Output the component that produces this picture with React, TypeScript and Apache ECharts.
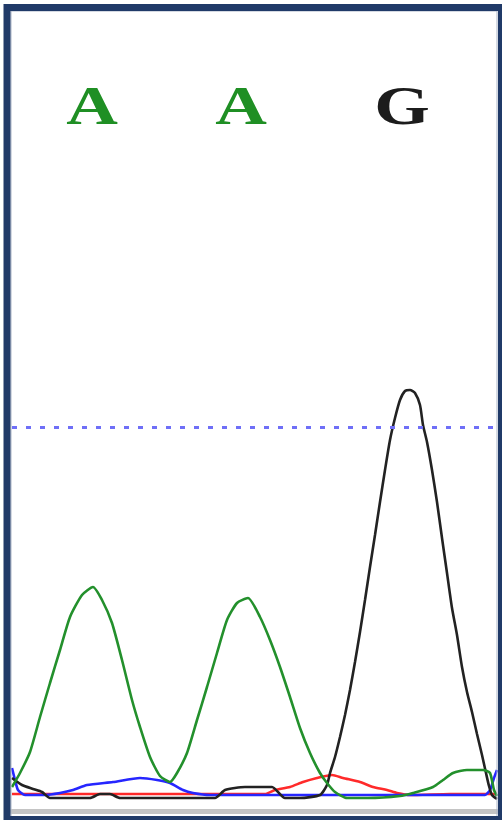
import React, { useEffect, useRef } from "react";
import * as echarts from "echarts";

// Scan positions (x) and signal strength (y) for each dye channel.
// Conventional dye colours: A green, C blue, G black, T red.
const traceA: [number, number][] = [
  [12, 13], [20, 27], [30, 48], [40, 83], [50, 117], [60, 150], [70, 183], [82, 205],
  [93, 213], [102, 200], [112, 177], [122, 140], [132, 100], [140, 73], [150, 43],
  [160, 24], [170, 18], [177, 27], [187, 47], [197, 80], [207, 113], [217, 147],
  [227, 180], [237, 197], [248, 202], [260, 183], [270, 160], [280, 133], [290, 103],
  [300, 72], [310, 47], [320, 27], [327, 17], [335, 8], [347, 2], [368, 2],
  [400, 4], [413, 7], [433, 13], [443, 20], [453, 27], [467, 30], [483, 30], [490, 27],
  [494, 10], [497, 4],
];

const traceG: [number, number][] = [
  [12, 22], [22, 15], [33, 11], [42, 8], [50, 2], [90, 2], [100, 6], [110, 6], [120, 2],
  [215, 2], [225, 10], [245, 13], [272, 13], [285, 2], [300, 2], [320, 5], [327, 15],
  [330, 27], [335, 43], [340, 63], [345, 85], [350, 110], [355, 138], [360, 168],
  [365, 200], [370, 233], [375, 265], [380, 298], [385, 330], [390, 360], [395, 382],
  [400, 400], [405, 409], [410, 410], [415, 407], [420, 395], [423, 375], [427, 358],
  [432, 330], [437, 298], [442, 262], [447, 227], [452, 192], [457, 165], [462, 133],
  [467, 108], [472, 88], [477, 66], [482, 45], [486, 27], [489, 14], [492, 5], [497, 1],
];

const traceT: [number, number][] = [
  [12, 6], [100, 6], [200, 6], [265, 6], [275, 10], [290, 13], [303, 18], [317, 22],
  [332, 25], [343, 22], [360, 18], [373, 13], [387, 10], [397, 7], [410, 5], [450, 6],
  [497, 6],
];

const traceC: [number, number][] = [
  [12, 32], [15, 20], [18, 10], [25, 5], [45, 5], [60, 7], [73, 10], [87, 15], [113, 18],
  [140, 22], [157, 20], [170, 17], [183, 10], [193, 7], [210, 5], [300, 5], [400, 5],
  [485, 5], [490, 10], [494, 22], [497, 30],
];

// Base calls and the scan positions they sit above
const baseCalls = ["A", "A", "G"];
const basePositions = [92, 241, 402];
const baseColors = ["#1f8f24", "#1f8f24", "#1c1c1c"];
const callLabelLevel = 695;

// Dotted reference level across the trace
const thresholdLevel = 373;

const lineSeries = (data: [number, number][], color: string, z: number) => ({
  type: "line" as const,
  data,
  showSymbol: false,
  symbol: "none",
  smooth: 0.2,
  lineStyle: { color, width: 2.6 },
  z,
});

export default function App() {
  const ref = useRef<HTMLDivElement>(null);

  useEffect(() => {
    if (!ref.current) return;
    const chart = echarts.init(ref.current, undefined, { renderer: "svg" });

    const greenSeries: any = lineSeries(traceA, "#23902c", 5);
    greenSeries.markLine = {
      silent: true,
      symbol: ["none", "none"],
      label: { show: false },
      lineStyle: { type: [5, 9], color: "#6f6ff7", width: 3 },
      data: [{ yAxis: thresholdLevel }],
    };

    chart.setOption({
      animation: false,
      backgroundColor: "#ffffff",
      grid: { left: 12, right: 5, top: 100, bottom: 9 },
      xAxis: {
        type: "value",
        min: 12,
        max: 497,
        axisLine: { show: true, onZero: false, lineStyle: { color: "#c4c4c4", width: 5 } },
        axisTick: { show: false },
        axisLabel: { show: false },
        splitLine: { show: false },
      },
      yAxis: {
        type: "value",
        min: -11,
        max: 700,
        show: false,
        splitLine: { show: false },
      },
      series: [
        lineSeries(traceT, "#ff2a2a", 2),
        lineSeries(traceC, "#2626ff", 3),
        lineSeries(traceG, "#222222", 4),
        greenSeries,
      ],
    });

    const letters = baseCalls.map((b, i) => {
      const [px, py] = chart.convertToPixel({ seriesIndex: 0 }, [
        basePositions[i],
        callLabelLevel,
      ]) as number[];
      return {
        type: "text",
        x: px,
        y: py,
        scaleX: 1.3,
        z: 10,
        style: {
          text: b,
          fill: baseColors[i],
          font: 'bold 55px "Liberation Serif", serif',
          textAlign: "center",
          textVerticalAlign: "middle",
        },
      };
    });

    chart.setOption({
      graphic: [
        ...letters,
        {
          type: "rect",
          z: 19,
          shape: { x: 11, y: 11, width: 486, height: 806 },
          style: { fill: "none", stroke: "#aab4c6", lineWidth: 1 },
        },
        {
          type: "rect",
          z: 20,
          shape: { x: 7, y: 7.5, width: 494.5, height: 812 },
          style: { fill: "none", stroke: "#203a68", lineWidth: 7 },
        },
      ],
    });

    return () => chart.dispose();
  }, []);

  return (
    <div
      ref={ref}
      style={{ position: "absolute", left: 0, top: 0, width: 502, height: 820, background: "#fff" }}
    />
  );
}
